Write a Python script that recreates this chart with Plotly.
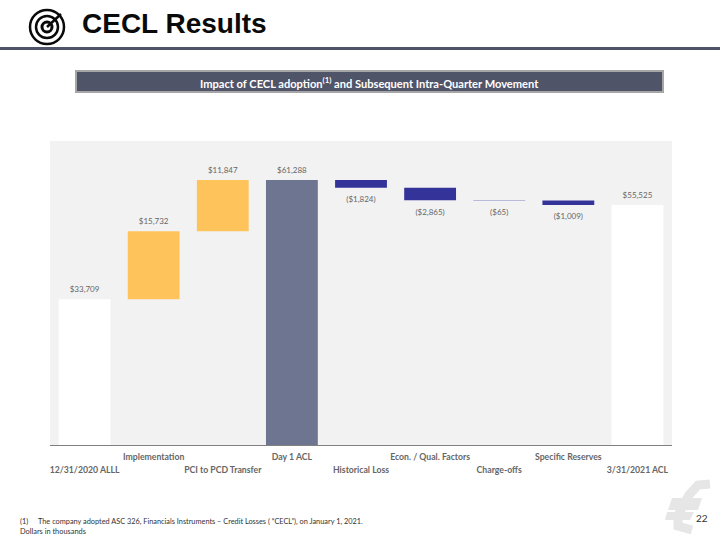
import plotly.graph_objects as go

categories = ["12/31/2020 ALLL", "Implementation", "PCI to PCD Transfer", "Day 1 ACL", "Historical Loss",
              "Econ. / Qual. Factors", "Charge-offs", "Specific Reserves", "3/31/2021 ACL"]
bases = [0, 33709, 49441, 0, 61288, 59464, 56599, 56534, 0]
values = [33709, 15732, 11847, 61288, -1824, -2865, -65, -1009, 55525]
labels = ["$33,709", "$15,732", "$11,847", "$61,288", "($1,824)", "($2,865)", "($65)", "($1,009)", "$55,525"]
colors = ["#FFFFFF", "#FFC35C", "#FFC35C", "#6E7591", "#333399", "#333399", "#B9B9DC", "#333399", "#FFFFFF"]
tick_text = [("<br>" if i % 2 == 0 else "") + f'<b><span style="font-size:8.7px">{c}</span></b>' + ("" if i % 2 == 0 else "<br> ")
             for i, c in enumerate(categories)]

L, R, T, B = 50, 672, 141, 445
def px(x): return (x - L) / (R - L)
def py(y): return (B - y) / (B - T)

fig = go.Figure(go.Bar(
    x=categories, y=values, base=bases, marker=dict(color=colors, line_width=0),
))
fig.add_trace(go.Scatter(
    x=categories, y=[b + v for b, v in zip(bases, values)], mode="markers+text", text=labels,
    textposition=["top center" if v > 0 else "bottom center" for v in values],
    marker=dict(size=[7 if v > 0 else 12 for v in values], opacity=0), cliponaxis=False, hoverinfo="skip",
    textfont=dict(family="Lato", size=8, color="#666666"),
))

shapes = []
def rect(x0, y0, x1, y1, fill, line=None, w=0):
    shapes.append(dict(type="rect", xref="paper", yref="paper", x0=px(x0), x1=px(x1), y0=py(y0), y1=py(y1),
                       fillcolor=fill, line=dict(color=line or fill, width=w)))
def path(points, close=False, fill=None, color=None, w=0):
    d = " ".join(f"{c}{px(x):.5f},{py(y):.5f}" for c, x, y in points) + (" Z" if close else "")
    shapes.append(dict(type="path", xref="paper", yref="paper", path=d, fillcolor=fill,
                       line=dict(color=color or "rgba(0,0,0,0)", width=w)))
def circle(cx, cy, r, w):
    shapes.append(dict(type="circle", xref="paper", yref="paper", x0=px(cx - r), x1=px(cx + r),
                       y0=py(cy + r), y1=py(cy - r), line=dict(color="#0A0A0A", width=w)))

# header rule and banner
rect(0, 47, 720, 50, "#4F5468")
rect(76, 71, 663, 92, "#4F5468", "#A6A6A6", 2)
# target icon
circle(47, 27, 17, 2.5)
circle(47, 27, 11, 2.5)
circle(47, 27, 5, 3)
path([("M", 47, 27), ("L", 61, 14)], color="#0A0A0A", w=2.5)
# watermark
path([("M", 710, 484), ("L", 698, 485), ("L", 689, 495), ("L", 678, 515), ("L", 678, 526), ("L", 692, 530)],
     color="#E6E6E6", w=9)
path([("M", 672, 498), ("L", 702, 498), ("L", 698, 510), ("L", 668, 510)], close=True, fill="#E6E6E6")
path([("M", 667, 512), ("L", 694, 512), ("L", 690, 520), ("L", 665, 520)], close=True, fill="#E6E6E6")

def note(x, y, text, size, color, family="Lato", anchor="left", bold=False):
    return dict(xref="paper", yref="paper", x=px(x), y=py(y), text=f"<b>{text}</b>" if bold else text, showarrow=False,
                xanchor=anchor, yanchor="middle", font=dict(family=family, size=size, color=color), align=anchor)

annotations = [
    note(80, 23, "CECL Results", 28, "#0A0A0A", "Liberation Sans", bold=True),
    note(369, 82, "Impact of CECL adoption<sup>(1)</sup> and Subsequent Intra-Quarter Movement", 11.1, "#FFFFFF",
         anchor="center", bold=True),
    note(18, 521, "(1)", 7.4, "#333333"),
    note(36, 521, "The company adopted ASC 326, Financials Instruments \u2013 Credit Losses ( \u201cCECL\u201d), on January 1, 2021.", 7.35, "#333333"),
    note(18, 531, "Dollars in thousands", 7.4, "#333333"),
    note(694, 518, "22", 10, "#333333"),
]

fig.update_layout(
    width=720, height=540, margin=dict(l=L, r=720 - R, t=T, b=540 - B, autoexpand=False),
    paper_bgcolor="#FFFFFF", plot_bgcolor="#F2F2F2", bargap=0.25, showlegend=False,
    shapes=shapes, annotations=annotations,
    xaxis=dict(tickmode="array", tickvals=categories, ticktext=tick_text, tickangle=0, ticks="",
               range=[-0.5, 8.5], ticklabelstandoff=2,
               showline=True, linecolor="#808080", linewidth=1, showgrid=False, zeroline=False,
               tickfont=dict(family="Lato", size=10, color="#666666")),
    yaxis=dict(range=[0, 70300], visible=False, showgrid=False, zeroline=False),
)
fig.write_html("out.html", config={"displayModeBar": False},
               post_script="document.body.style.margin='0';document.body.style.overflow='hidden';")
